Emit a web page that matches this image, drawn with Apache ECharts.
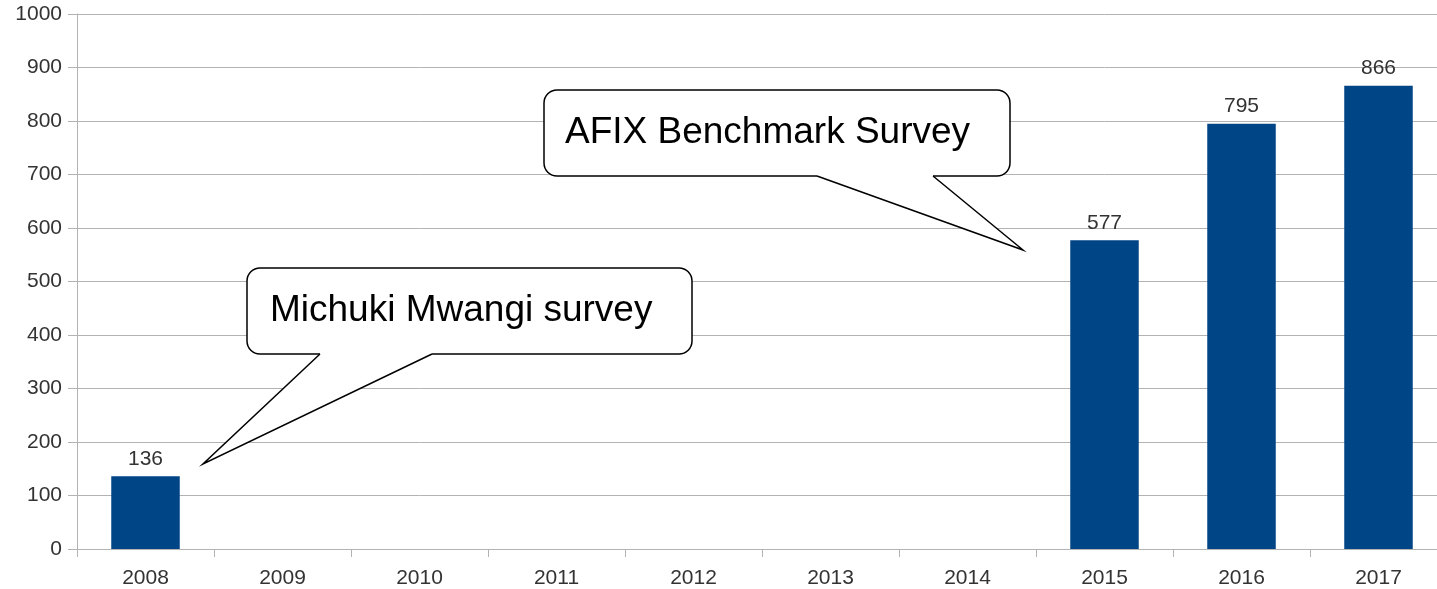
<!DOCTYPE html>
<html>
<head>
<meta charset="utf-8">
<style>
  html, body { margin: 0; padding: 0; background: #fff; overflow: hidden; }
  /* plot runs a little past the right edge of the window, as in the source image */
  #chart { width: 1447px; height: 589px; }
</style>
<script src="https://cdn.jsdelivr.net/npm/echarts@6/dist/echarts.min.js"></script>
</head>
<body>
<div id="chart"></div>
<script>
// chart data
var years = ['2008', '2009', '2010', '2011', '2012', '2013', '2014', '2015', '2016', '2017'];
var counts = [136, null, null, null, null, null, null, 577, 795, 866];
var yTicks = [0, 100, 200, 300, 400, 500, 600, 700, 800, 900, 1000];

var gridColor = '#b3b3b3';
var textColor = '#333333';
var font = '"Liberation Sans", Arial, sans-serif';

// speech bubble: rounded box + white gap in the bottom edge + two pointer lines
function bubble(box, base1, base2, tip, text, textX) {
  var bottom = box[1] + box[3];
  return [
    {
      type: 'rect',
      shape: { x: box[0], y: box[1], width: box[2], height: box[3], r: 13 },
      style: { fill: '#fff', stroke: '#000', lineWidth: 1.5 },
      z: 100
    },
    {
      type: 'polygon',
      shape: { points: [[base1, bottom - 2], [base2, bottom - 2], [base2, bottom + 2], [base1, bottom + 2]] },
      style: { fill: '#fff' },
      z: 101
    },
    {
      type: 'polygon',
      shape: { points: [[base1, bottom], tip, [base2, bottom]] },
      style: { fill: '#fff' },
      z: 101
    },
    {
      type: 'polyline',
      shape: { points: [[base1, bottom], tip, [base2, bottom]] },
      style: { stroke: '#000', lineWidth: 1.5, fill: null },
      z: 102
    },
    {
      type: 'text',
      x: textX,
      y: box[1] + box[3] / 2,
      style: {
        text: text,
        font: '37px ' + font,
        fill: '#000',
        verticalAlign: 'middle'
      },
      z: 103
    }
  ];
}

var chart = echarts.init(document.getElementById('chart'));

var option = {
  animation: false,
  backgroundColor: '#fff',
  grid: {
    left: 77,
    right: 0,
    top: 14,
    bottom: 39
  },
  xAxis: {
    type: 'category',
    data: years,
    boundaryGap: true,
    axisLine: { show: true, lineStyle: { color: gridColor, width: 1 } },
    axisTick: { show: true, length: 8, lineStyle: { color: gridColor } },
    axisLabel: {
      color: textColor,
      fontSize: 21,
      fontFamily: font,
      margin: 19
    },
    splitLine: { show: false }
  },
  yAxis: {
    type: 'value',
    min: yTicks[0],
    max: yTicks[yTicks.length - 1],
    interval: 100,
    axisLine: { show: true, lineStyle: { color: gridColor, width: 1 } },
    axisTick: { show: true, length: 9, lineStyle: { color: gridColor } },
    axisLabel: {
      color: textColor,
      fontSize: 21,
      fontFamily: font,
      margin: 15,
      formatter: function (v) { return String(v); }
    },
    splitLine: { show: true, lineStyle: { color: gridColor, width: 1 } }
  },
  series: [{
    type: 'bar',
    data: counts,
    barWidth: '50%',
    itemStyle: { color: '#004586' },
    label: {
      show: true,
      position: 'top',
      distance: 7,
      color: textColor,
      fontSize: 21,
      fontFamily: font
    }
  }],
  graphic: [].concat(
    bubble([544, 90, 466, 86], 817, 933, [1023, 250], 'AFIX Benchmark Survey', 565),
    bubble([247, 268, 445, 86], 320, 432, [203, 464], 'Michuki Mwangi survey', 270)
  )
};

chart.setOption(option);
</script>
</body>
</html>
